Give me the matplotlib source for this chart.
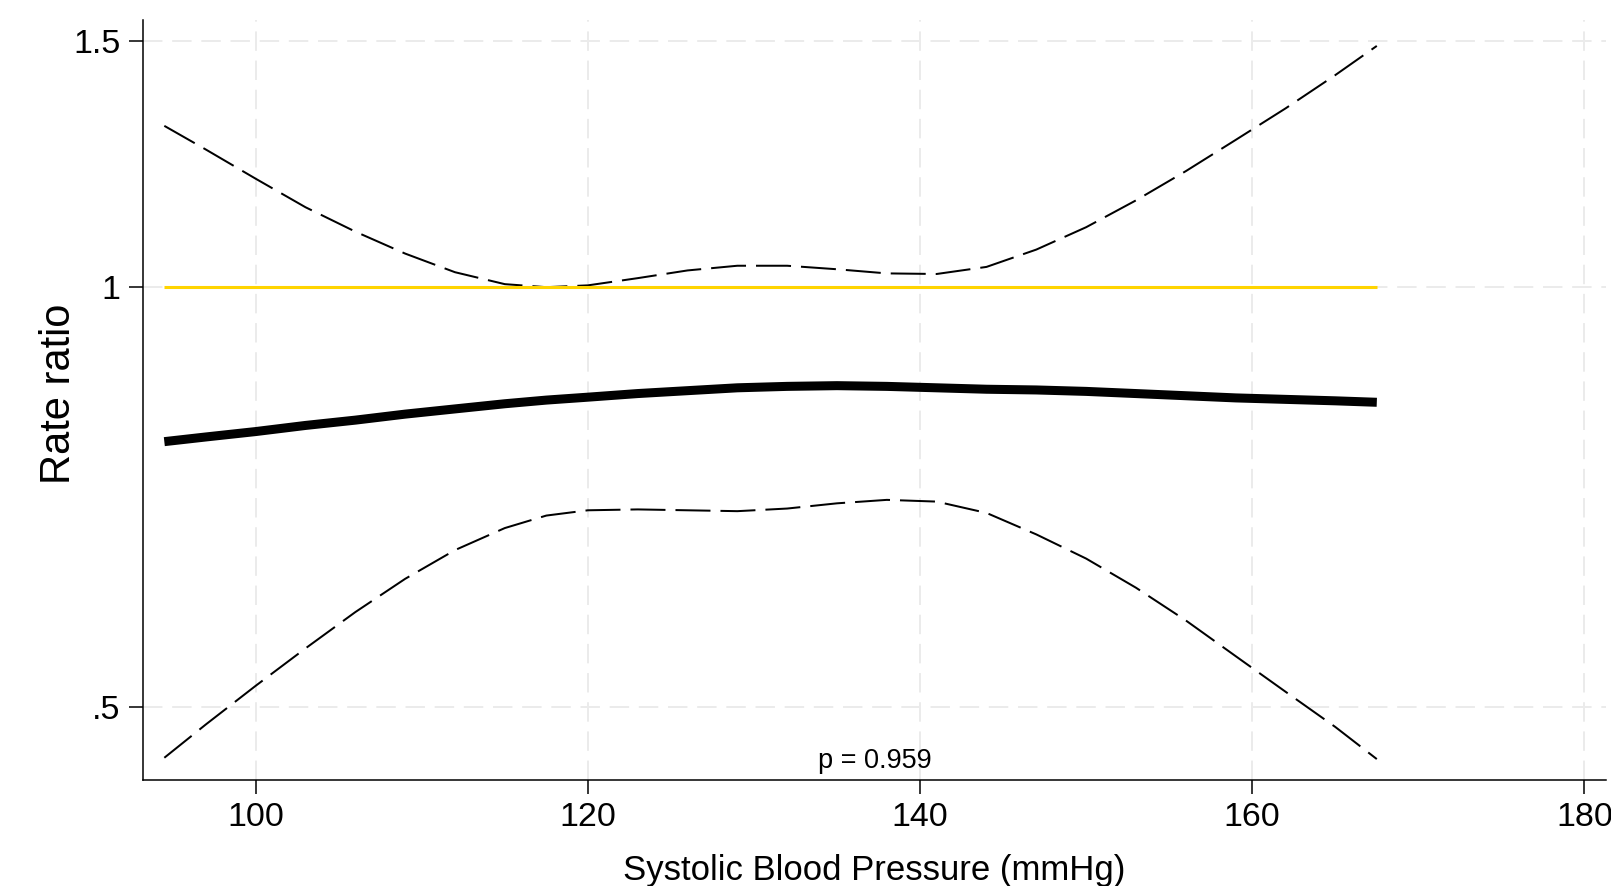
import matplotlib
matplotlib.use("Agg")
import matplotlib.pyplot as plt
from matplotlib.ticker import NullLocator

plt.rcParams['font.family'] = ['Liberation Sans', 'DejaVu Sans']

# systolic blood pressure (mmHg)
sbp = [94.5, 97, 100, 103, 106, 109, 112, 115, 117.5, 120, 123, 126, 129,
       132, 135, 138, 141, 144, 147, 150, 153, 156, 159, 162, 165, 167.5]

# rate ratio estimate
rr = [0.775, 0.781, 0.788, 0.796, 0.803, 0.811, 0.818, 0.825, 0.830, 0.834,
      0.839, 0.843, 0.847, 0.849, 0.850, 0.849, 0.847, 0.845, 0.844, 0.842,
      0.839, 0.836, 0.833, 0.831, 0.829, 0.827]

# upper and lower 95% limits
upper = [1.305, 1.255, 1.196, 1.141, 1.096, 1.057, 1.025, 1.005, 1.000, 1.003,
         1.015, 1.028, 1.036, 1.036, 1.030, 1.023, 1.022, 1.034, 1.064, 1.104,
         1.154, 1.211, 1.275, 1.343, 1.419, 1.489]
lower = [0.460, 0.486, 0.518, 0.551, 0.585, 0.618, 0.648, 0.672, 0.686, 0.692,
         0.693, 0.692, 0.691, 0.694, 0.700, 0.704, 0.702, 0.689, 0.665, 0.639,
         0.609, 0.577, 0.544, 0.513, 0.484, 0.459]

ref = [1.0] * len(sbp)

xticks = [100, 120, 140, 160, 180]
yticks = [0.5, 1, 1.5]
ylabels = ['.5', '1', '1.5']

fig = plt.figure(figsize=(16.11, 8.86), dpi=100)
ax = fig.add_axes([0.0886, 0.1196, 0.9083, 0.8578])

ax.plot(sbp, upper, color='black', lw=1.44, linestyle=(0, (17.5, 5)))
ax.plot(sbp, lower, color='black', lw=1.44, linestyle=(0, (17.5, 5)))
ax.plot(sbp, ref, color='#ffd400', lw=2.2, solid_capstyle='butt')
ax.plot(sbp, rr, color='black', lw=6.5, solid_capstyle='butt')

ax.set_yscale('log')
ax.set_xlim(93.2, 181.3)
ax.set_ylim(0.4434, 1.554)
ax.set_xticks(xticks)
ax.set_yticks(yticks)
ax.set_yticklabels(ylabels)
ax.yaxis.set_minor_locator(NullLocator())
ax.xaxis.set_minor_locator(NullLocator())

ax.grid(True, color='#ebebeb', lw=1.4, linestyle=(0, (10, 5)))
ax.set_axisbelow(True)

for s in ['top', 'right']:
    ax.spines[s].set_visible(False)
for s in ['left', 'bottom']:
    ax.spines[s].set_linewidth(1.1)

ax.tick_params(axis='both', direction='out', length=10, width=1.1,
               labelsize=24.5, pad=6)

ax.set_xlabel('Systolic Blood Pressure (mmHg)', fontsize=25, labelpad=15)
ax.set_ylabel('Rate ratio', fontsize=30)
ax.yaxis.set_label_coords(-0.0435, 0.508)

ax.text(137.25, 0.452, 'p = 0.959', ha='center', va='baseline', fontsize=19.5)

fig.savefig('out.png', dpi=100)
